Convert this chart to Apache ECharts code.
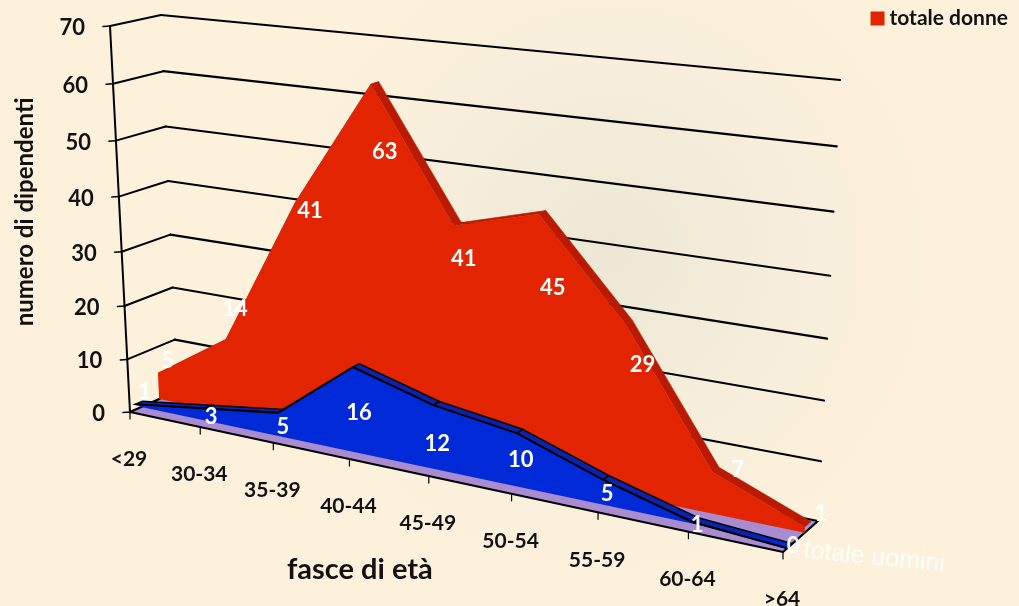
<!DOCTYPE html>
<html>
<head>
<meta charset="utf-8">
<style>html,body{margin:0;padding:0;background:#fcf1dc}#chart{width:1019px;height:606px}</style>
<script src="https://cdn.jsdelivr.net/npm/echarts@6/dist/echarts.min.js"></script>
</head>
<body>
<div id="chart"></div>
<script>
// Dipendenti per fascia di età
const categories = ['<29', '30-34', '35-39', '40-44', '45-49', '50-54', '55-59', '60-64', '>64'];
const totaleDonne = [5, 14, 41, 63, 41, 45, 29, 7, 1];
const totaleUomini = [1, 3, 5, 16, 12, 10, 5, 1, 0];
const yTicks = [0, 10, 20, 30, 40, 50, 60, 70];

// Pixel shifts of the value labels from the vertex they describe
const donneLabelShift = [[10, -12], [9, -30], [15, 8], [14, 68], [10, 33], [14, 74], [17, 41], [25, -2], [16, -13]];
const uominiLabelShift = [[9, -12], [6, 8], [5, 14], [6, 46], [4, 39], [4, 27], [4, 14], [4, 3], [6, -2]];

const FONT = 'Lato, "Open Sans", sans-serif';
const RED = '#e32400', RED_TOP = '#ba1a00';
const BLUE = '#0029d8', BLUE_TOP = '#0a22ae';
const FLOOR = '#a98bd0';

// Depth slots on the floor: 0 is the front edge, 1 the back wall
const UOMINI_DEPTH = [0.12, 0.27];
const UOMINI_BASE_DEPTH = 0.24;
const DONNE_DEPTH = [0.62, 0.79];

// Unit square to quadrilateral projective map
function quadMap(p00, p10, p11, p01) {
  const dx1 = p10[0] - p11[0], dx2 = p01[0] - p11[0], sx = p00[0] - p10[0] + p11[0] - p01[0];
  const dy1 = p10[1] - p11[1], dy2 = p01[1] - p11[1], sy = p00[1] - p10[1] + p11[1] - p01[1];
  const den = dx1 * dy2 - dx2 * dy1;
  const g = (sx * dy2 - dx2 * sy) / den, h = (dx1 * sy - sx * dy1) / den;
  const a = p10[0] - p00[0] + g * p10[0], b = p01[0] - p00[0] + h * p01[0], c = p00[0];
  const d = p10[1] - p00[1] + g * p10[1], e = p01[1] - p00[1] + h * p01[1], f = p00[1];
  return (u, v) => {
    const w = g * u + h * v + 1;
    return [(a * u + b * v + c) / w, (d * u + e * v + f) / w];
  };
}
const frontPlane = quadMap([130, 412], [783, 552], [803, 99], [110, 26]);
const backPlane = quadMap([177, 391], [818, 521], [840, 80], [161, 15]);

// Turns an axis coordinate into its place on the tilted box
function projector(params, api) {
  const r = params.coordSys;
  return (i, value, depth) => {
    const c = api.coord([i, value]);
    const u = (c[0] - r.x) / r.width, v = (r.y + r.height - c[1]) / r.height;
    const f = frontPlane(u, v), b = backPlane(u, v);
    return [f[0] + (b[0] - f[0]) * depth, f[1] + (b[1] - f[1]) * depth];
  };
}

const pairs = (values) => values.map((v, i) => [i, v]);
const line = (a, b, width) => ({
  type: 'line',
  shape: { x1: a[0], y1: a[1], x2: b[0], y2: b[1] },
  style: { stroke: '#000', lineWidth: width, lineCap: 'round' }
});
const label = (text, x, y, opts) => ({
  type: 'text',
  style: Object.assign({ text, x, y, align: 'center', verticalAlign: 'middle', fill: '#111', font: 'bold 21px ' + FONT }, opts)
});

function renderGrid(params, api) {
  const p = projector(params, api), v = api.value(1);
  const front = p(0, v, 0), knee = p(0, v, 1), end = p(8, v, 1);
  const children = [
    line([front[0] - 7, front[1] + 0.5], front, 1.5),
    label(String(v), front[0] - 25, front[1] + 2, { align: 'right', font: 'bold 22px ' + FONT })
  ];
  if (v > 0) {
    children.push(line(front, knee, 2), line(knee, end, 2.2));
  }
  return { type: 'group', children };
}

function renderFloor(params, api) {
  if (params.dataIndex > 0) return null;
  const p = projector(params, api);
  return {
    type: 'polygon',
    shape: { points: [p(0, 0, 0), p(8, 0, 0), p(8, 0, 1), p(0, 0, 1)] },
    style: { fill: FLOOR, stroke: '#000', lineWidth: 2, lineJoin: 'round' }
  };
}

function renderXAxis(params, api) {
  const p = projector(params, api), i = params.dataIndex;
  const a = p(i, 0, 0);
  return {
    type: 'group',
    children: [
      line(a, [a[0], a[1] + 7], 1.2),
      label(categories[i], a[0] - 1, a[1] + 47.5, { font: 'bold 21px ' + FONT })
    ]
  };
}

// Whole area in one pass: sloped top faces first, the front face over them
function areaRenderer(values, depth, baseDepth, fill, top, outlined) {
  return (params, api) => {
    if (params.dataIndex > 0) return null;
    const p = projector(params, api);
    const children = [];
    for (let i = 0; i < values.length - 1; i++) {
      children.push({
        type: 'polygon',
        shape: { points: [p(i, values[i], depth[0]), p(i + 1, values[i + 1], depth[0]), p(i + 1, values[i + 1], depth[1]), p(i, values[i], depth[1])] },
        style: outlined ? { fill: top, stroke: '#000', lineWidth: 1.5 } : { fill: top, stroke: top, lineWidth: 0.6 }
      });
    }
    const upper = values.map((v, i) => p(i, v, depth[0]));
    const base = [p(values.length - 1, 0, baseDepth), p(0, 0, baseDepth)];
    children.push({
      type: 'polygon',
      shape: { points: upper.concat(base) },
      style: { fill }
    });
    if (outlined) {
      children.push({
        type: 'polyline',
        shape: { points: upper },
        style: { fill: 'none', stroke: '#000', lineWidth: 2 }
      });
    }
    return { type: 'group', children };
  };
}

function labelRenderer(values, depth, shifts) {
  return (params, api) => {
    const p = projector(params, api), i = params.dataIndex;
    const a = p(i, values[i], depth);
    return label(String(values[i]), a[0] + shifts[i][0], a[1] + shifts[i][1], { fill: '#fff', font: 'bold 22px ' + FONT });
  };
}

function renderAxisLine(params, api) {
  if (params.dataIndex > 0) return null;
  const p = projector(params, api);
  return line(p(0, 0, 0), p(0, 70, 0), 2);
}

function custom(name, data, renderItem, z) {
  return { type: 'custom', name, data, renderItem, z, silent: true, animation: false, encode: { x: 0, y: 1 } };
}

const chart = echarts.init(document.getElementById('chart'), null, { renderer: 'canvas' });
const donne = custom('totale donne', pairs(totaleDonne), areaRenderer(totaleDonne, DONNE_DEPTH, DONNE_DEPTH[0], RED, RED_TOP, false), 4);
donne.itemStyle = { color: RED };
const uomini = custom('totale uomini', pairs(totaleUomini), areaRenderer(totaleUomini, UOMINI_DEPTH, UOMINI_BASE_DEPTH, BLUE, BLUE_TOP, true), 5);
uomini.itemStyle = { color: BLUE };

chart.setOption({
  animation: false,
  backgroundColor: {
    type: 'radial', x: 0.6, y: 0.42, r: 0.55,
    colorStops: [{ offset: 0, color: '#ece7d5' }, { offset: 0.55, color: '#f6eedb' }, { offset: 1, color: '#fdf1dc' }]
  },
  legend: {
    data: ['totale donne'], right: 6, top: 3, icon: 'rect', itemWidth: 14, itemHeight: 14, selectedMode: false,
    textStyle: { color: '#111', fontFamily: FONT, fontWeight: 'bold', fontSize: 21 }
  },
  grid: { left: 100, right: 100, top: 100, bottom: 100 },
  xAxis: { type: 'category', data: categories, boundaryGap: false, show: false },
  yAxis: { type: 'value', min: 0, max: 70, interval: 10, show: false },
  graphic: [
    { type: 'text', left: 287, top: 555, silent: true, style: { text: 'fasce di età', fill: '#111', font: 'bold 29px ' + FONT } },
    { type: 'text', x: 25, y: 212, rotation: Math.PI / 2, silent: true, style: { text: 'numero di dipendenti', fill: '#111', align: 'center', verticalAlign: 'middle', font: 'bold 24px ' + FONT } },
    { type: 'text', x: 805, y: 538, rotation: -0.1, silent: true, style: { text: 'totale uomini', fill: 'rgba(255,255,255,0.85)', font: '25px "Liberation Sans", Arial, sans-serif' } }
  ],
  series: [
    custom('griglia', yTicks.map(v => [0, v]), renderGrid, 1),
    custom('pavimento', [[0, 0]], renderFloor, 2),
    custom('categorie', pairs(categories.map(() => 0)), renderXAxis, 3),
    donne,
    uomini,
    custom('asse', [[0, 0]], renderAxisLine, 6),
    custom('etichette donne', pairs(totaleDonne), labelRenderer(totaleDonne, DONNE_DEPTH[0], donneLabelShift), 7),
    custom('etichette uomini', pairs(totaleUomini), labelRenderer(totaleUomini, UOMINI_DEPTH[0], uominiLabelShift), 7)
  ]
});
</script>
</body>
</html>
